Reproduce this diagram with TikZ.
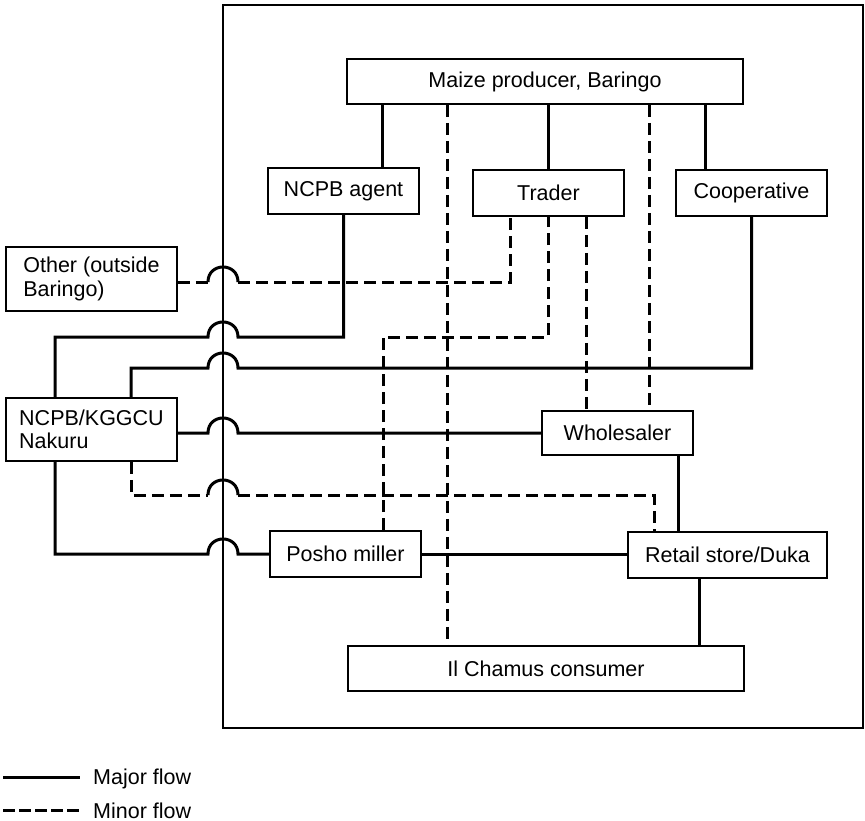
\documentclass[tikz,border=0pt]{standalone}
\usepackage{fontspec}
\setmainfont{Liberation Sans}
\newcommand\hopat[1]{-- (208,#1) .. controls (208,{#1-20}) and (238,{#1-20}) .. (238,#1)}
\newcommand\hopsolid[1]{\draw[major] (208,#1) .. controls (208,{#1-20}) and (238,{#1-20}) .. (238,#1);}
\begin{document}
\begin{tikzpicture}[x=1pt,y=-1pt,
  box/.style={draw, line width=1.9pt, inner sep=0pt, font=\fontsize{21.5}{23.5}\selectfont},
  major/.style={line width=3pt},
  minor/.style={line width=3pt, dash pattern=on 12pt off 6pt},
  framesty/.style={line width=1.8pt},
  lab/.style={font=\fontsize{21.5}{23.5}\selectfont, inner sep=0pt}]
\useasboundingbox (0,0) rectangle (865,821);
% frame
\draw[framesty] (223,5) rectangle (863,728);
% nodes
\node[box, minimum width=396pt, minimum height=45pt] (maize) at (545,81.5) {Maize producer, Baringo};
\node[box, minimum width=151pt, minimum height=46pt] (agent) at (343.5,191) {NCPB agent};
\node[box, minimum width=151pt, minimum height=46pt] (trader) at (548.5,193) {Trader};
\node[box, minimum width=151pt, minimum height=46pt] (coop) at (751.5,193) {Cooperative};
\node[box, minimum width=171pt, minimum height=64pt, align=left] (other) at (91.5,279) {Other (outside\\Baringo)};
\node[box, minimum width=171pt, minimum height=63pt, align=left] (nakuru) at (91.5,429.5) {NCPB/KGGCU\\Nakuru};
\node[box, minimum width=151pt, minimum height=44pt] (wh) at (617.5,433) {Wholesaler};
\node[box, minimum width=151pt, minimum height=46pt] (posho) at (345.5,554) {Posho miller};
\node[box, minimum width=199pt, minimum height=46pt] (retail) at (727.5,555) {Retail store/Duka};
\node[box, minimum width=396pt, minimum height=45pt] (cons) at (546,668.5) {Il Chamus consumer};
% helper coordinates
\coordinate (vA) at (382,0);
\coordinate (vC) at (705,0);
\coordinate (vL1) at (55,0);
\coordinate (vL2) at (131,0);
\coordinate (vW) at (678,0);
\coordinate (vR) at (699,0);
\coordinate (vM1) at (447,0);
\coordinate (vM2) at (649,0);
\coordinate (vT1) at (510,0);
\coordinate (vT2) at (548,0);
\coordinate (vT3) at (586,0);
\coordinate (vP) at (383,0);
\coordinate (vD) at (654,0);
\coordinate (hO) at (0,282);
\coordinate (hB) at (0,337);
\coordinate (hC) at (0,368);
\coordinate (hD) at (0,495);
% major flows
\draw[major] (maize.south -| vA) -- (agent.north -| vA);
\draw[major] (maize.south -| vT2) -- (trader.north -| vT2);
\draw[major] (maize.south -| vC) -- (coop.north -| vC);
\draw[major] (nakuru.north -| vL1) -- (vL1 |- hB) \hopat{337} -- (agent.south |- hB) -- (agent.south);
\draw[major] (nakuru.north -| vL2) -- (vL2 |- hC) \hopat{368} -- (coop.south |- hC) -- (coop.south);
\draw[major] (nakuru.east |- wh.west) \hopat{433} -- (wh.west);
\draw[major] (nakuru.south -| vL1) -- (vL1 |- posho.west) \hopat{554} -- (posho.west);
\draw[major] (posho.east) -- (posho.east -| retail.west);
\draw[major] (wh.south -| vW) -- (retail.north -| vW);
\draw[major] (retail.south -| vR) -- (cons.north -| vR);
% minor flows
\draw[minor] (maize.south -| vM1) -- (cons.north -| vM1);
\draw[minor] (maize.south -| vM2) -- (wh.north -| vM2);
\draw[minor] (other.east |- hO) -- (208,282) (238,282) -- (vT1 |- hO) -- (trader.south -| vT1);
\hopsolid{282}
\draw[minor] (posho.north -| vP) -- (vP |- hB) -- (vT2 |- hB) -- (trader.south -| vT2);
\draw[minor] (trader.south -| vT3) -- (wh.north -| vT3);
\draw[minor] (nakuru.south -| vL2) -- (vL2 |- hD) -- (208,495) (238,495) -- (vD |- hD) -- (retail.north -| vD);
\hopsolid{495}
% legend
\coordinate (lg1a) at (3,777);
\coordinate (lg1b) at (80,777);
\coordinate (lg2a) at (3,810);
\coordinate (lg2b) at (80,810);
\draw[major] (lg1a) -- (lg1b);
\draw[minor, dash pattern=on 12pt off 4pt] (lg2a) -- (lg2b);
\node[lab, anchor=base west] (lgmaj) at (93,784) {Major flow};
\node[lab, anchor=base west] (lgmin) at (93,818) {Minor flow};
\end{tikzpicture}
\end{document}
